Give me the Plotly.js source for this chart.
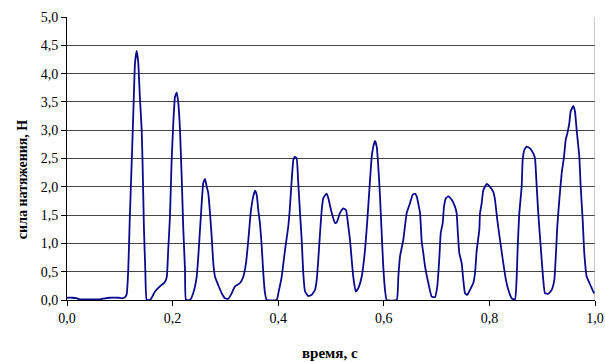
<!DOCTYPE html>
<html>
<head>
<meta charset="utf-8">
<script src="https://cdn.plot.ly/plotly-3.0.1.min.js"></script>
<style>html,body{margin:0;padding:0;background:#fff;}#chart{width:605px;height:362px;}</style>
</head>
<body>
<div id="chart"></div>
<script>
// time, s
const time = [
0,0.0095,0.019,0.025,0.044,0.0625,0.072,0.081,0.097,0.104,0.110,0.113,0.116,0.119,0.1225,0.1256,0.1288,0.132,0.135,0.138,0.1415,0.1434,0.1458,0.1483,0.151,
0.157,0.161,0.1667,0.176,0.1856,0.189,0.192,0.195,0.198,0.2013,0.2045,0.2078,0.2108,0.214,0.2174,0.2203,0.2235,0.2254,
0.233,0.239,0.2456,0.2487,0.2519,0.2551,0.2581,0.2614,0.2646,0.2676,0.2708,0.274,0.2771,0.2803,0.2866,0.293,0.2992,0.3055,0.3119,0.3182,0.3277,0.3339,0.339,0.3434,0.3479,0.3528,0.356,0.3593,0.3623,0.3655,0.3688,0.3718,0.375,0.3782,
0.3972,0.4002,0.4066,0.4129,0.4191,0.4223,0.4256,0.4286,0.4318,0.435,0.438,0.4413,0.4445,0.4475,0.4508,0.457,0.4634,0.4697,0.4729,0.4759,0.4792,0.4824,0.4854,0.4918,0.4949,0.5013,0.5076,0.5108,0.517,0.5233,0.5284,0.5328,0.536,0.5392,0.5422,0.5468,0.5517,0.5581,0.5644,0.5688,0.5739,0.5771,0.5801,0.5833,0.5866,0.5896,0.5928,0.596,0.599,0.6023,0.6055,
0.6244,0.6275,0.6307,0.6369,0.6434,0.6496,0.6547,0.6591,0.6623,0.6686,0.6718,0.6748,0.678,0.6843,0.6907,0.697,0.7013,0.705,0.7078,0.7116,0.714,0.7178,0.7222,0.7286,0.7348,0.738,0.7399,0.743,0.7475,0.7506,0.7538,0.7581,0.7633,0.7695,0.7727,0.776,0.7809,0.7822,0.7854,0.7884,0.7949,0.8011,0.8074,0.8106,0.815,0.8201,0.8263,0.8314,0.8358,0.8422,0.8485,
0.8517,0.8536,0.8566,0.8611,0.863,0.8661,0.8706,0.8769,0.8831,0.8864,0.8896,0.8926,0.8972,0.901,0.9053,0.9117,0.918,0.9229,0.9261,0.9286,0.9324,0.9369,0.9413,0.9445,0.9475,0.9513,0.9539,0.9589,0.9621,0.9653,0.9703,0.9729,0.9767,0.9797,0.9843,0.9886,0.9938,0.9981,1.0
];
// tension force, N
const force = [
0.04,0.04,0.03,0.01,0.01,0.01,0.03,0.04,0.04,0.03,0.05,0.1,0.53,1.47,2.42,3.3,4.19,4.40,4.19,3.59,3.0,2.3,1.24,0.53,0.0,
0.0,0.05,0.15,0.24,0.32,0.41,0.94,1.47,2.42,3.12,3.59,3.67,3.48,3.0,2.12,1.24,0.53,0.0,
0.0,0.12,0.41,0.77,1.24,1.71,2.07,2.14,2.0,1.89,1.54,1.12,0.65,0.41,0.26,0.12,0.03,0.02,0.12,0.24,0.3,0.41,0.65,1.06,1.54,1.83,1.93,1.86,1.59,1.35,0.95,0.47,0.12,0.0,
0.0,0.12,0.41,0.88,1.3,1.65,2.12,2.47,2.53,2.5,2.07,1.54,1.06,0.47,0.15,0.07,0.09,0.18,0.35,0.71,1.18,1.59,1.8,1.88,1.8,1.54,1.36,1.37,1.54,1.62,1.59,1.3,1.06,0.71,0.41,0.15,0.21,0.41,0.88,1.41,2.12,2.53,2.71,2.81,2.71,2.36,1.83,1.18,0.59,0.18,0.0,
0.0,0.41,0.77,1.06,1.54,1.71,1.86,1.88,1.83,1.54,1.03,0.83,0.6,0.3,0.06,0.05,0.24,0.71,1.18,1.36,1.65,1.8,1.83,1.77,1.65,1.53,1.24,0.83,0.65,0.35,0.12,0.09,0.18,0.3,0.47,0.88,1.24,1.53,1.71,1.94,2.05,2.0,1.91,1.77,1.41,1.06,0.65,0.35,0.18,0.03,0.01,
0.41,0.94,1.53,2.0,2.47,2.65,2.71,2.68,2.59,2.5,2.0,1.53,0.94,0.47,0.12,0.11,0.18,0.35,0.83,1.3,1.77,2.24,2.53,2.83,2.94,3.12,3.33,3.43,3.33,3.0,2.53,2.0,1.41,0.83,0.41,0.32,0.21,0.12,0.15
];
const xTicks = [0, 0.2, 0.4, 0.6, 0.8, 1.0];
const yTicks = [0, 0.5, 1, 1.5, 2, 2.5, 3, 3.5, 4, 4.5, 5];
const xTitle = 'время, с';
const yTitle = 'сила натяжения, Н';

const fam = '"Liberation Serif", "DejaVu Serif", serif';

Plotly.newPlot('chart', [{
  x: time, y: force, type: 'scatter', mode: 'lines',
  line: {color: '#0a0a8c', width: 1.8, shape: 'spline', smoothing: 0.4},
  hoverinfo: 'skip'
}], {
  width: 605, height: 362,
  margin: {l: 67, r: 10, t: 17, b: 62},
  paper_bgcolor: '#fff', plot_bgcolor: '#fff',
  separators: ', ',
  font: {family: fam, size: 14, color: '#000'},
  showlegend: false,
  xaxis: {
    range: [0, 1], tickvals: xTicks, tickformat: '.1f',
    ticks: 'outside', ticklen: 5, tickcolor: '#000',
    showgrid: false, zeroline: false,
    showline: true, linecolor: '#000', linewidth: 1,
    tickfont: {family: fam, size: 14, color: '#000'}
  },
  yaxis: {
    range: [0, 5], tickvals: yTicks, tickformat: '.1f',
    ticks: 'outside', ticklen: 5, tickcolor: '#000',
    showgrid: true, gridcolor: '#444', gridwidth: 1,
    zeroline: false,
    showline: true, linecolor: '#000', linewidth: 1,
    tickfont: {family: fam, size: 14, color: '#000'}
  },
  annotations: [
    {text: xTitle, xref: 'paper', yref: 'paper', x: 0.498, y: -0.187, xanchor: 'center', yanchor: 'middle', showarrow: false,
     font: {family: fam, size: 15, color: '#000', weight: 'bold'}},
    {text: yTitle, xref: 'paper', yref: 'paper', x: -0.085, y: 0.424, xanchor: 'center', yanchor: 'middle', textangle: -90, showarrow: false,
     font: {family: fam, size: 14, color: '#000', weight: 'bold'}}
  ],
  shapes: [{type: 'line', xref: 'x', yref: 'paper', x0: 1, x1: 1, y0: 0, y1: 1, line: {color: '#999', width: 1}}]
}, {staticPlot: true, displayModeBar: false});
</script>
</body>
</html>
